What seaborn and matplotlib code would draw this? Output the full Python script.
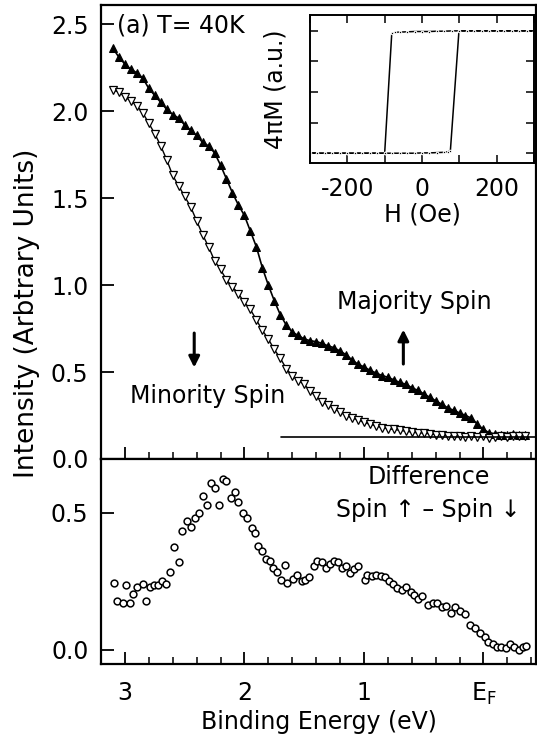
import numpy as np
import pandas as pd
import matplotlib
matplotlib.use("Agg")
import matplotlib.pyplot as plt
from matplotlib.ticker import MultipleLocator, FixedLocator
import seaborn as sns

# ---------------- data ----------------
energy = [3.10, 3.05, 3.00, 2.95, 2.90, 2.85, 2.80, 2.75, 2.70, 2.65,
          2.60, 2.55, 2.50, 2.45, 2.40, 2.35, 2.30, 2.25, 2.20, 2.15,
          2.10, 2.05, 2.00, 1.95, 1.90, 1.85, 1.80, 1.75, 1.70, 1.65,
          1.60, 1.55, 1.50, 1.45, 1.40, 1.35, 1.30, 1.25, 1.20, 1.15,
          1.10, 1.05, 1.00, 0.95, 0.90, 0.85, 0.80, 0.75, 0.70, 0.65,
          0.60, 0.55, 0.50, 0.45, 0.40, 0.35, 0.30, 0.25, 0.20, 0.15,
          0.10, 0.05, 0.00, -0.05, -0.10, -0.15, -0.20, -0.25, -0.30, -0.35]

majority = [2.36, 2.31, 2.27, 2.24, 2.22, 2.19, 2.13, 2.09, 2.05, 2.01,
            1.98, 1.96, 1.92, 1.89, 1.86, 1.82, 1.80, 1.76, 1.69, 1.61,
            1.53, 1.46, 1.40, 1.31, 1.22, 1.10, 1.00, 0.91, 0.83, 0.77,
            0.73, 0.71, 0.69, 0.68, 0.675, 0.665, 0.65, 0.64, 0.62, 0.60,
            0.57, 0.545, 0.53, 0.51, 0.495, 0.48, 0.47, 0.455, 0.44, 0.43,
            0.41, 0.395, 0.375, 0.355, 0.335, 0.315, 0.295, 0.28, 0.265, 0.25,
            0.235, 0.20, 0.17, 0.15, 0.145, 0.14, 0.14, 0.145, 0.14, 0.14]

minority = [2.12, 2.11, 2.08, 2.06, 2.03, 1.99, 1.93, 1.87, 1.80, 1.72,
            1.63, 1.57, 1.51, 1.45, 1.37, 1.29, 1.22, 1.14, 1.09, 1.03,
            0.99, 0.95, 0.90, 0.86, 0.80, 0.74, 0.69, 0.63, 0.58, 0.52,
            0.48, 0.45, 0.43, 0.39, 0.36, 0.33, 0.31, 0.29, 0.27, 0.25,
            0.235, 0.225, 0.21, 0.20, 0.19, 0.18, 0.175, 0.17, 0.165, 0.16,
            0.155, 0.15, 0.15, 0.145, 0.14, 0.14, 0.135, 0.135, 0.13, 0.125,
            0.13, 0.125, 0.13, 0.12, 0.125, 0.13, 0.125, 0.13, 0.13, 0.13]

baseline_energy = [1.69, -0.45]
baseline_level = [0.127, 0.127]

diff_energy = [3.09, 3.07, 3.02, 2.99, 2.96, 2.93, 2.90, 2.85, 2.82, 2.79,
               2.76, 2.72, 2.69, 2.66, 2.62, 2.59, 2.55, 2.52, 2.48, 2.45,
               2.41, 2.38, 2.35, 2.31, 2.28, 2.25, 2.21, 2.18, 2.15, 2.11,
               2.08, 2.05, 2.01, 1.98, 1.94, 1.91, 1.89, 1.85, 1.82, 1.79,
               1.76, 1.73, 1.69, 1.66, 1.64, 1.59, 1.56, 1.52, 1.49, 1.46,
               1.42, 1.39, 1.35, 1.32, 1.28, 1.25, 1.22, 1.18, 1.15, 1.12,
               1.08, 1.05, 0.99, 0.97, 0.93, 0.90, 0.86, 0.82, 0.79, 0.76,
               0.72, 0.68, 0.65, 0.61, 0.58, 0.55, 0.51, 0.46, 0.42, 0.39,
               0.35, 0.31, 0.27, 0.24, 0.20, 0.15, 0.11, 0.07, 0.03, -0.01,
               -0.04, -0.08, -0.11, -0.15, -0.19, -0.22, -0.26, -0.30, -0.33, -0.36]
diff_values = [0.245, 0.18, 0.17, 0.235, 0.17, 0.205, 0.23, 0.24, 0.18, 0.23,
               0.235, 0.235, 0.25, 0.24, 0.285, 0.375, 0.32, 0.435, 0.47, 0.45,
               0.48, 0.50, 0.56, 0.53, 0.61, 0.59, 0.53, 0.625, 0.615, 0.555,
               0.575, 0.54, 0.50, 0.48, 0.445, 0.425, 0.38, 0.36, 0.33, 0.325,
               0.30, 0.285, 0.255, 0.31, 0.245, 0.26, 0.275, 0.25, 0.255, 0.265,
               0.305, 0.325, 0.32, 0.30, 0.315, 0.325, 0.32, 0.30, 0.305, 0.28,
               0.295, 0.305, 0.255, 0.275, 0.27, 0.275, 0.27, 0.265, 0.25, 0.24,
               0.225, 0.22, 0.23, 0.21, 0.20, 0.185, 0.195, 0.165, 0.17, 0.17,
               0.155, 0.16, 0.135, 0.155, 0.14, 0.13, 0.09, 0.08, 0.06, 0.045,
               0.03, 0.02, 0.01, 0.01, 0.005, 0.02, 0.01, 0.0, 0.01, 0.015]

# hysteresis loop (inset)
loop_down_H = [300, 280, 260, 240, 220, 200, 180, 160, 140, 120, 100, 80, 60, 40, 20,
               0, -20, -40, -60, -72, -81, -100, -120, -140, -160, -180, -200,
               -220, -240, -260, -280, -300]
loop_down_M = [1.0, 1.0, 1.0, 1.0, 1.0, 1.0, 1.0, 1.0, 1.0, 1.0, 1.0, 1.0, 0.995, 0.995, 0.99,
               0.99, 0.99, 0.985, 0.98, 0.975, 0.96, -1.0, -1.0, -1.0, -1.0, -1.0, -1.0,
               -1.0, -1.0, -1.0, -1.0, -1.0]
loop_up_H = [-300, -280, -260, -240, -220, -200, -180, -160, -140, -120, -100, -80, -60,
             -40, -20, 0, 20, 40, 60, 70, 76, 99, 120, 140, 160, 180, 200, 220, 240,
             260, 280, 300]
loop_up_M = [-1.0, -1.0, -1.0, -1.0, -1.0, -1.0, -1.0, -1.0, -1.0, -1.0, -1.0, -1.0, -1.0,
             -1.0, -1.0, -0.995, -0.995, -0.99, -0.985, -0.975, -0.96, 1.0, 1.0, 1.0, 1.0,
             1.0, 1.0, 1.0, 1.0, 1.0, 1.0, 1.0]

x_major = [3, 2, 1, 0]
x_major_labels = ["3", "2", "1", r"E$_\mathrm{F}$"]

# ---------------- style ----------------
sns.set_style("ticks")
plt.rcParams["font.family"] = ["DejaVu Sans"]
plt.rcParams["axes.unicode_minus"] = False
plt.rcParams["mathtext.fontset"] = "dejavusans"
for key in ("text.color", "axes.labelcolor", "xtick.color", "ytick.color",
            "axes.edgecolor", "xtick.labelcolor", "ytick.labelcolor"):
    plt.rcParams[key] = "black"
FS = 17

W, H = 537, 740
fig = plt.figure(figsize=(W / 100, H / 100), dpi=100)

def frac(l, t, r, b):
    return [l / W, 1 - b / H, (r - l) / W, (b - t) / H]

ax1 = fig.add_axes(frac(101, 5, 536, 459))
ax2 = fig.add_axes(frac(101, 459, 536, 664))
axi = fig.add_axes(frac(310, 15, 534, 163))

# ---------------- top panel ----------------
sns.lineplot(x=energy, y=majority, ax=ax1, color="black", lw=1.2, marker="^",
             markersize=5.5, markerfacecolor="black", markeredgecolor="black",
             estimator=None, sort=False)
sns.lineplot(x=energy, y=minority, ax=ax1, color="black", lw=1.0, marker="v",
             markersize=5.5, markerfacecolor="white", markeredgecolor="black",
             markeredgewidth=0.9, estimator=None, sort=False)
sns.lineplot(x=baseline_energy, y=baseline_level, ax=ax1, color="black", lw=1.2,
             estimator=None, sort=False)

for ax in (ax1, ax2):
    ax.set_xlim(3.2, -0.44)
    ax.xaxis.set_major_locator(FixedLocator(x_major))
    ax.xaxis.set_minor_locator(MultipleLocator(0.2))
    ax.tick_params(axis="both", which="major", direction="in", length=9, width=1.3,
                   labelsize=FS, pad=9, color="black", labelcolor="black")
    ax.tick_params(axis="x", which="minor", direction="in", length=5, width=1.1,
                   color="black")
    ax.tick_params(axis="y", which="minor", left=False)
    for s in ax.spines.values():
        s.set_linewidth(1.6)
        s.set_color("black")
    ax.set_facecolor("white")

ax1.set_ylim(0, 2.61)
ax1.set_yticks([0.0, 0.5, 1.0, 1.5, 2.0, 2.5])
ax1.set_yticklabels(["0.0", "0.5", "1.0", "1.5", "2.0", "2.5"])
ax1.tick_params(axis="x", which="both", labelbottom=False)
ax1.set_xlabel("")

ax1.text(3.07, 2.49, "(a) T= 40K", fontsize=FS, ha="left", va="center", color="black")
ax1.text(0.58, 0.90, "Majority Spin", fontsize=FS, ha="center", va="center", color="black")
ax1.text(2.31, 0.36, "Minority Spin", fontsize=FS, ha="center", va="center", color="black")
ax1.annotate("", xy=(0.67, 0.76), xytext=(0.67, 0.53),
             arrowprops=dict(arrowstyle="-|>", color="black", lw=2.2, mutation_scale=16))
ax1.annotate("", xy=(2.42, 0.51), xytext=(2.42, 0.74),
             arrowprops=dict(arrowstyle="-|>", color="black", lw=2.2, mutation_scale=16))

# ---------------- bottom panel ----------------
sns.scatterplot(x=diff_energy, y=diff_values, ax=ax2, marker="o", s=24,
                facecolor="white", edgecolor="black", linewidth=1.1)
ax2.set_ylim(-0.052, 0.697)
ax2.set_yticks([0.0, 0.5])
ax2.set_yticklabels(["0.0", "0.5"])
ax2.set_xticklabels(x_major_labels)
ax2.tick_params(axis="x", which="major", pad=12)
ax2.set_xlabel("Binding Energy (eV)", fontsize=FS, labelpad=2, color="black")
ax2.text(0.46, 0.63, "Difference", fontsize=FS, ha="center", va="center", color="black")
ax2.text(0.46, 0.51, "Spin \u2191 \u2013 Spin \u2193", fontsize=FS, ha="center",
         va="center", color="black")

fig.text(27 / W, 1 - 313 / H, "Intensity (Arbtrary Units)", fontsize=19,
         rotation=90, ha="center", va="center", color="black")

# ---------------- inset ----------------
sns.lineplot(x=loop_down_H, y=loop_down_M, ax=axi, color="black", lw=1.1, marker="o",
             markersize=1.8, estimator=None, sort=False)
sns.lineplot(x=loop_up_H, y=loop_up_M, ax=axi, color="black", lw=1.1, marker="o",
             markersize=1.8, estimator=None, sort=False)
axi.set_xlim(-300, 300)
axi.set_ylim(-1.16, 1.26)
axi.set_xticks([-200, 0, 200])
axi.set_xticklabels(["-200", "0", "200"])
axi.xaxis.set_minor_locator(MultipleLocator(100))
axi.set_yticks([-1.0, -0.5, 0.0, 0.5, 1.0])
axi.set_yticklabels([])
axi.tick_params(axis="both", which="major", direction="in", length=6, width=1.1,
                top=True, right=True, labelsize=FS, pad=10, color="black",
                labelcolor="black")
axi.tick_params(axis="x", which="minor", direction="in", length=6, width=1.1,
                top=True, color="black")
axi.set_xlabel("H (Oe)", fontsize=FS, labelpad=1, color="black")
axi.set_ylabel("4\u03c0M (a.u.)", fontsize=FS, labelpad=6, color="black")
for s in axi.spines.values():
    s.set_linewidth(1.4)
    s.set_color("black")
axi.set_facecolor("white")

fig.savefig("out.png", dpi=100, facecolor="white")
